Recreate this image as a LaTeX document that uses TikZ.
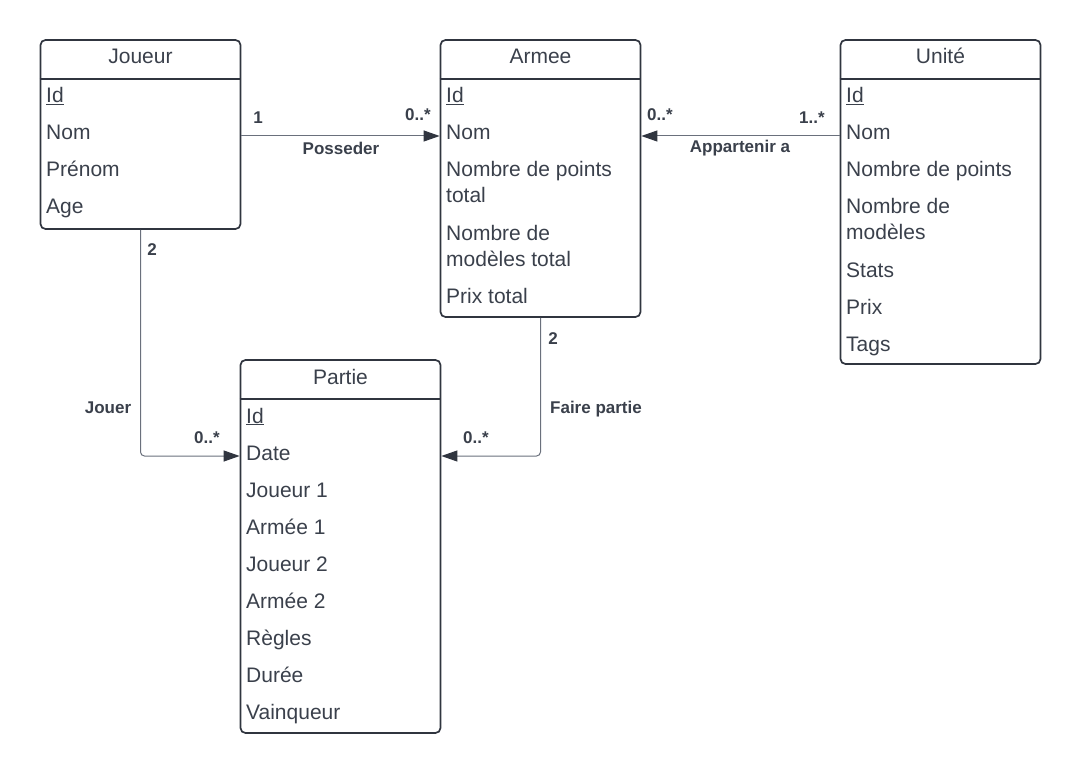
\documentclass[tikz,border=0pt]{standalone}
\usepackage{fontspec}
\setmainfont{Liberation Sans}
\usepackage{tikz}
\usetikzlibrary{arrows.meta}

\definecolor{umlink}{HTML}{30353F}
\definecolor{umtext}{HTML}{3A404B}
\definecolor{umline}{HTML}{6A707C}

\tikzset{
	classbox/.style={draw=umlink, line width=1.7pt, rounded corners=5pt, inner sep=0pt, minimum width=200pt},
	head/.style={anchor=base, inner sep=0pt, text=umtext, font=\fontsize{21}{26}\selectfont},
	attr/.style={anchor=base west, inner sep=0pt, text=umtext, align=left, text height=15pt, text depth=7pt, font=\fontsize{21}{26}\selectfont},
	mult/.style={inner sep=0pt, text=umtext, font=\bfseries\fontsize{17}{20}\selectfont},
	assoc/.style={draw=umline, line width=1pt, rounded corners=4pt, -{Triangle[length=16pt,width=11pt,color=umlink]}}
}

\begin{document}
\begin{tikzpicture}[x=1pt,y=-1pt]
	\useasboundingbox (0,0) rectangle (1080,773);
	% Classes
	\node[classbox, minimum height=189pt] (joueur) at (140.5,134.5) {};
	\node[classbox, minimum height=277pt] (armee) at (540.5,178.5) {};
	\node[classbox, minimum height=324pt] (unite) at (940.5,202) {};
	\node[classbox, minimum height=373pt] (partie) at (340.5,546.5) {};
	% Header lines
	\foreach \c in {joueur,armee,unite,partie}
		\draw[umlink, line width=1.7pt] ([yshift=-40pt]\c.north west) -- ([yshift=-40pt]\c.north east);
	% Titles
	\node[head] (joueurT) at (140.5,64) {Joueur};
	\node[head] (armeeT) at (540.5,64) {Armee};
	\node[head] (uniteT) at (940.5,64) {Unité};
	\node[head] (partieT) at (340.5,384) {Partie};
	% Attributes (wrapped ones sit on their last line)
	\foreach \y/\t in {103/\underline{Id}, 140/Nom, 177/Prénom, 214/Age}
		\node[attr] (joueur-\y) at (46,\y) {\t};
	\foreach \y/\t in {103/\underline{Id}, 140/Nom, 203/{Nombre de points\\total}, 266/{Nombre de\\modèles total}, 303/Prix total}
		\node[attr] (armee-\y) at (446,\y) {\t};
	\foreach \y/\t in {103/\underline{Id}, 140/Nom, 177/Nombre de points, 240/{Nombre de\\modèles}, 277/Stats, 314/Prix, 351/Tags}
		\node[attr] (unite-\y) at (846,\y) {\t};
	\foreach \y/\t in {423/\underline{Id}, 460/Date, 497/Joueur 1, 534/Armée 1, 571/Joueur 2, 608/Armée 2, 645/Règles, 682/Durée, 719/Vainqueur}
		\node[attr] (partie-\y) at (246,\y) {\t};
	% Associations
	\draw[assoc] (joueur-140 -| joueur.east) -- (armee-140 -| armee.west);
	\draw[assoc] (unite-140 -| unite.west) -- (armee-140 -| armee.east);
	\draw[assoc] (joueur.south) |- (partie-460 -| partie.west);
	\draw[assoc] (armee.south) |- (partie-460 -| partie.east);
	% Labels
	\node[mult] (posM1) at (258,118) {1};
	\node[mult] (posM2) at (418,115) {0..*};
	\node[mult] (posL) at (341,148) {Posseder};
	\node[mult] (appM1) at (660,115) {0..*};
	\node[mult] (appM2) at (812,118) {1..*};
	\node[mult] (appL) at (740,148) {Appartenir a};
	\node[mult] (jouM1) at (152,250) {2};
	\node[mult] (jouL) at (108,408) {Jouer};
	\node[mult] (jouM2) at (207,438) {0..*};
	\node[mult] (fpM1) at (553,339) {2};
	\node[mult] (fpL) at (596,409) {Faire partie};
	\node[mult] (fpM2) at (476,438) {0..*};
\end{tikzpicture}
\end{document}
